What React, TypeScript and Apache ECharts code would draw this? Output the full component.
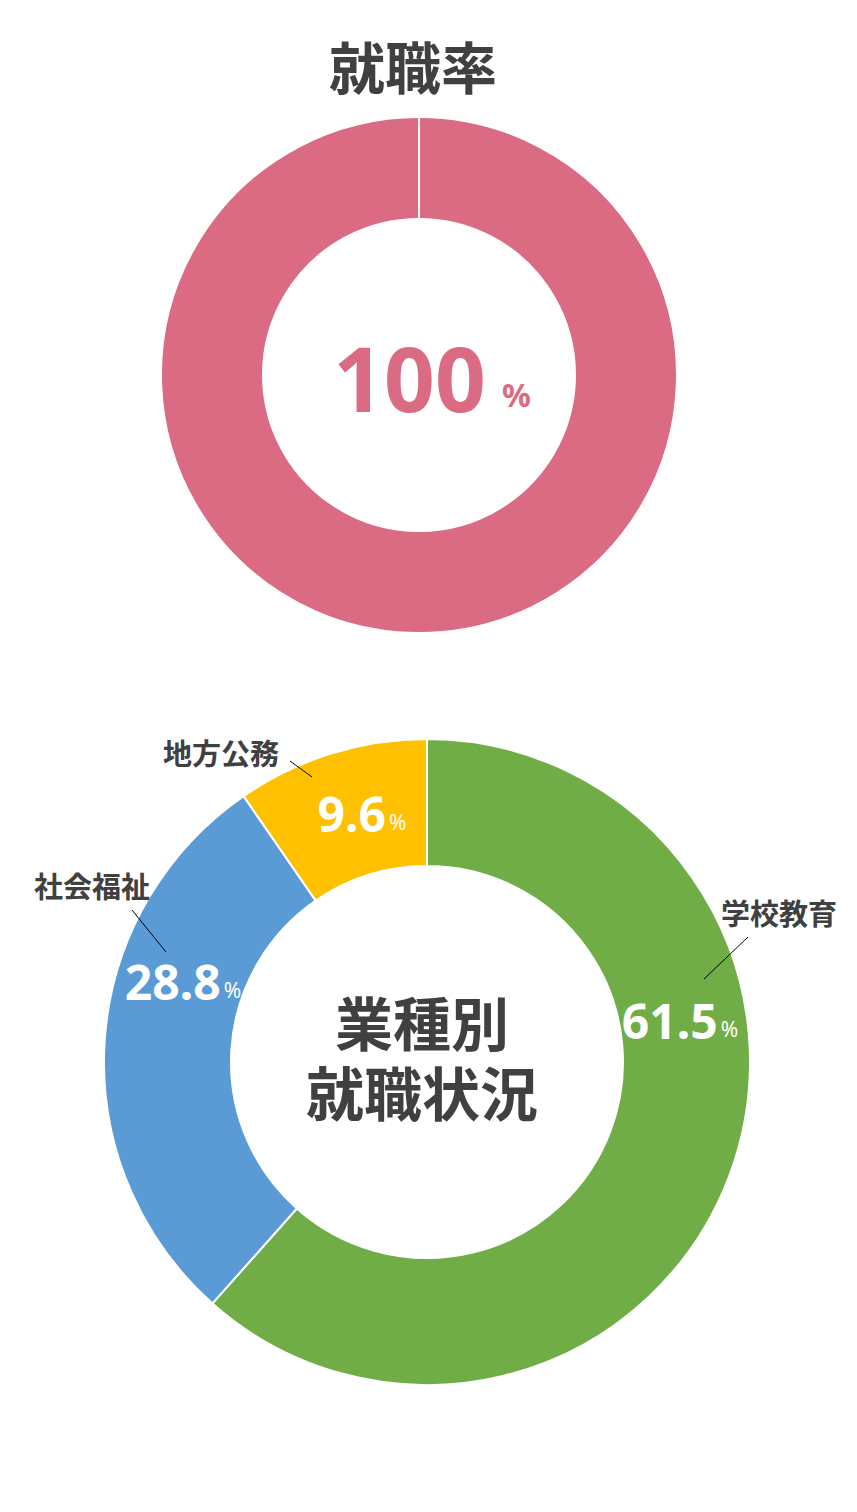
import React, { useEffect, useRef } from "react";
import * as echarts from "echarts";

// ---- data ----
const rateTitle = "就職率";
const rateValue = [100];
const industryTitle = ["業種別", "就職状況"];
const industryNames = ["学校教育", "社会福祉", "地方公務"];
const industryValues = [61.5, 28.8, 9.6];
const industryColors = ["#70AD47", "#5B9BD5", "#FFC000"];

const PINK = "#DB6B83";
const DARK = "#404040";
const JP = "'Noto Sans CJK JP', 'Noto Sans', sans-serif";
const NUM = "'Noto Sans', 'Noto Sans CJK JP', sans-serif";

// label placement (layout only)
const innerLabelPos = [
  [680, 1020],
  [183, 981],
  [362, 813],
];
const outerLabelPos = [
  [779, 912],
  [92, 885],
  [221, 752],
];
const leaderLines = [
  [[748, 937], [726, 958], [704, 979]],
  [[132, 910], [149, 931], [166, 952]],
  [[290, 761], [301, 769], [312, 777]],
];

export default function App() {
  const ref = useRef<HTMLDivElement>(null);
  useEffect(() => {
    if (!ref.current) return;
    const chart = echarts.init(ref.current, undefined, { renderer: "svg" });
    const bottomData = industryNames.map((n, i) => ({
      name: n,
      value: industryValues[i],
      itemStyle: { color: industryColors[i] },
    }));
    chart.setOption({
      animation: false,
      backgroundColor: "#ffffff",
      graphic: [
        {
          type: "text",
          x: 413,
          y: 64,
          style: {
            text: rateTitle,
            fontFamily: JP,
            fontWeight: "bold",
            fontSize: 56,
            fill: DARK,
            textAlign: "center",
            textVerticalAlign: "middle",
          },
        },
        {
          type: "text",
          x: 422,
          y: 1056,
          style: {
            text: industryTitle.join("\n"),
            fontFamily: JP,
            fontWeight: "bold",
            fontSize: 58,
            lineHeight: 70,
            fill: DARK,
            textAlign: "center",
            textVerticalAlign: "middle",
          },
        },
      ],
      series: [
        {
          type: "pie",
          center: [419, 375],
          radius: [156, 258],
          startAngle: 90,
          clockwise: true,
          silent: true,
          itemStyle: { borderColor: "#ffffff", borderWidth: 2 },
          labelLine: { show: false },
          data: [
            {
              name: rateTitle,
              value: rateValue[0],
              itemStyle: { color: PINK },
              label: {
                show: true,
                position: "center",
                formatter: (p: any) => `{v|${p.value}}{p|%}`,
                rich: {
                  v: {
                    fontFamily: NUM,
                    fontWeight: "bold",
                    fontSize: 89,
                    color: PINK,
                    lineHeight: 89,
                    verticalAlign: "bottom",
                  },
                  p: {
                    fontFamily: NUM,
                    fontWeight: "bold",
                    fontSize: 32,
                    color: PINK,
                    lineHeight: 32,
                    verticalAlign: "bottom",
                    padding: [0, 0, 11, 16],
                  },
                },
              },
            },
            {
              name: "",
              value: 0,
              itemStyle: { color: PINK },
              label: { show: false },
              labelLine: { show: false },
            },
          ],
          labelLayout: (params: any) =>
            params.dataIndex === 0
              ? { x: 432, y: 377, align: "center", verticalAlign: "middle" }
              : {},
        },
        {
          type: "pie",
          z: 2,
          center: [427, 1062],
          radius: [196, 323],
          startAngle: 90,
          clockwise: true,
          silent: true,
          itemStyle: { borderColor: "#ffffff", borderWidth: 2 },
          data: bottomData,
          label: {
            show: true,
            position: "inside",
            formatter: (p: any) => `{v|${p.value}}{p|%}`,
            rich: {
              v: {
                fontFamily: NUM,
                fontWeight: "bold",
                fontSize: 48,
                color: "#ffffff",
                lineHeight: 48,
                verticalAlign: "bottom",
              },
              p: {
                fontFamily: NUM,
                fontSize: 21,
                color: "#ffffff",
                lineHeight: 21,
                verticalAlign: "bottom",
                padding: [0, 0, 5, 3],
              },
            },
          },
          labelLine: { show: false },
          labelLayout: (params: any) => {
            const pos = innerLabelPos[params.dataIndex];
            return { x: pos[0], y: pos[1], align: "center", verticalAlign: "middle" };
          },
        },
        {
          type: "pie",
          z: 5,
          center: [427, 1062],
          radius: [196, 323],
          startAngle: 90,
          clockwise: true,
          silent: true,
          itemStyle: { color: "rgba(0,0,0,0)", borderWidth: 0 },
          data: industryNames.map((n, i) => ({ name: n, value: industryValues[i] })),
          label: {
            show: true,
            position: "outside",
            formatter: "{b}",
            overflow: "none",
            width: 140,
            fontFamily: JP,
            fontWeight: "bold",
            fontSize: 29,
            color: DARK,
          },
          labelLine: {
            show: true,
            lineStyle: { color: "#000000", width: 1 },
          },
          labelLayout: (params: any) => {
            const pos = outerLabelPos[params.dataIndex];
            return {
              x: pos[0],
              y: pos[1],
              align: "center",
              verticalAlign: "middle",
              labelLinePoints: leaderLines[params.dataIndex],
            };
          },
        },
      ],
    });
    return () => chart.dispose();
  }, []);
  return (
    <div
      ref={ref}
      style={{ position: "absolute", left: 0, top: 0, width: 857, height: 1512 }}
    />
  );
}
